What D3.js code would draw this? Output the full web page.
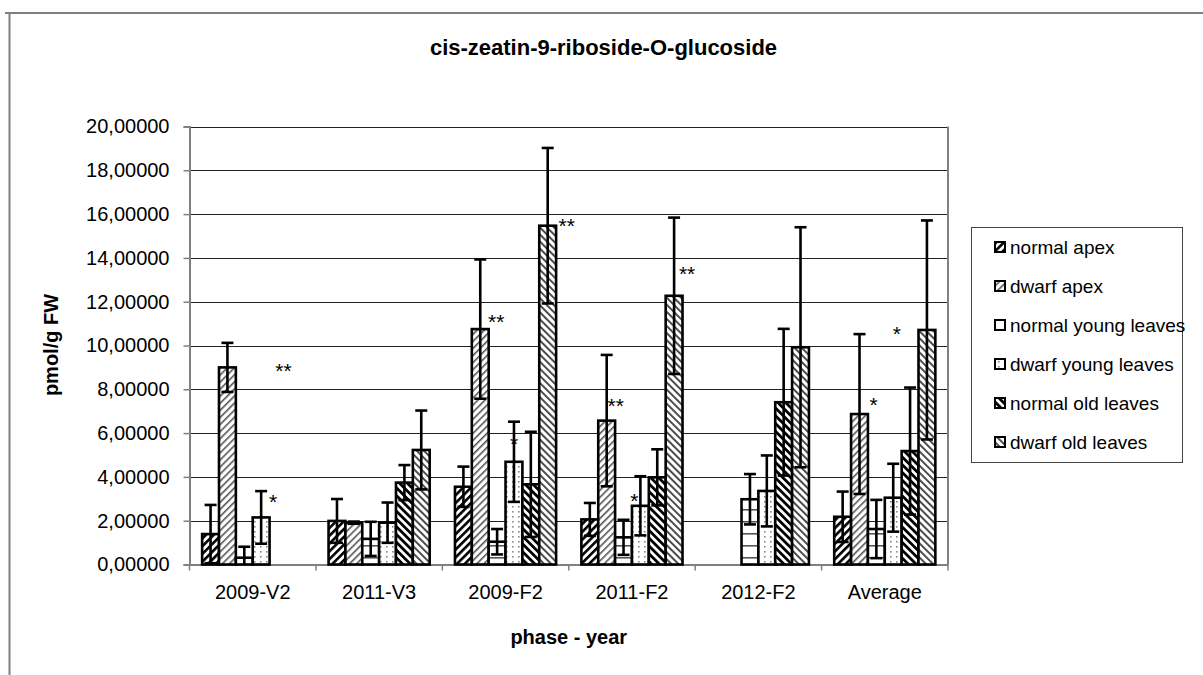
<!DOCTYPE html>
<html>
<head>
<meta charset="utf-8">
<script src="https://cdn.jsdelivr.net/npm/d3@7"></script>
<style>
  html, body { margin: 0; padding: 0; background: #fff; }
  svg { display: block; font-family: "Liberation Sans", Arial, sans-serif; }
</style>
</head>
<body>
<svg id="chart" width="1203" height="675"></svg>
<script>
// ---- data ----
const categories = ["2009-V2", "2011-V3", "2009-F2", "2011-F2", "2012-F2", "Average"];
const seriesNames = ["normal apex", "dwarf apex", "normal young leaves",
                     "dwarf young leaves", "normal old leaves", "dwarf old leaves"];

const normalApex      = [1.39, 1.99, 3.55, 2.06, null, 2.18];
const normalApexErr   = [1.33, 1.00, 0.92, 0.75, null, 1.15];
const dwarfApex       = [9.00, 1.91, 10.75, 6.57, null, 6.87];
const dwarfApexErr    = [1.12, 0.05, 3.18, 3.00, null, 3.65];
const normalYoung     = [0.31, 1.17, 1.04, 1.24, 2.98, 1.62];
const normalYoungErr  = [0.50, 0.78, 0.58, 0.80, 1.15, 1.33];
const dwarfYoung      = [2.15, 1.91, 4.69, 2.68, 3.36, 3.05];
const dwarfYoungErr   = [1.20, 0.92, 1.83, 1.35, 1.62, 1.55];
const normalOld       = [null, 3.74, 3.66, 3.98, 7.41, 5.18];
const normalOldErr    = [null, 0.80, 2.40, 1.28, 3.35, 2.90];
const dwarfOld        = [null, 5.23, 15.47, 12.27, 9.92, 10.71];
const dwarfOldErr     = [null, 1.80, 3.55, 3.57, 5.48, 5.00];

const yTicks = [0, 2, 4, 6, 8, 10, 12, 14, 16, 18, 20];

// significance marks: category, series, text
const marks = [
  { cat: "2009-V2", series: 1, text: "**" },
  { cat: "2009-V2", series: 3, text: "*" },
  { cat: "2009-F2", series: 1, text: "**" },
  { cat: "2009-F2", series: 3, text: "*" },
  { cat: "2009-F2", series: 5, text: "**" },
  { cat: "2011-F2", series: 1, text: "**" },
  { cat: "2011-F2", series: 3, text: "*" },
  { cat: "2011-F2", series: 5, text: "**" },
  { cat: "Average", series: 1, text: "*" },
  { cat: "Average", series: 5, text: "*" }
];
// label placement relative to the top-centre of the bar (px)
const markOffsets = [
  [56, 0], [12, -19], [16, -11], [0, -22], [19, -4],
  [9, -19], [-6, -9], [13, -26], [14, -13], [-30, 0]
];

const values = [normalApex, dwarfApex, normalYoung, dwarfYoung, normalOld, dwarfOld];
const errors = [normalApexErr, dwarfApexErr, normalYoungErr, dwarfYoungErr, normalOldErr, dwarfOldErr];

// ---- layout ----
const svg = d3.select("#chart");
const plot = { left: 189.5, right: 948, top: 126.5, bottom: 564.5 };

const x0 = d3.scaleBand().domain(categories).range([plot.left, plot.right]).paddingInner(0).paddingOuter(0);
// 150% gap width: group = 6 bars + 1.5 bar widths of gap
const groupPad = 0.75 / 7.5;
const x1 = d3.scaleBand().domain(d3.range(seriesNames.length))
  .range([x0.bandwidth() * groupPad, x0.bandwidth() * (1 - groupPad)]).padding(0);
const y = d3.scaleLinear().domain([0, 20]).range([plot.bottom, plot.top]);

// ---- patterns ----
const defs = svg.append("defs");
function stripes(id, angle, period, width, color) {
  const p = defs.append("pattern").attr("id", id).attr("patternUnits", "userSpaceOnUse")
    .attr("width", period).attr("height", period)
    .attr("patternTransform", `rotate(${angle})`);
  p.append("rect").attr("width", period).attr("height", period).attr("fill", "#fff");
  p.append("rect").attr("x", 0).attr("y", 0).attr("width", width).attr("height", period).attr("fill", color);
}
stripes("p0", 45, 5.5, 2.6, "#000");     // normal apex: dark upward diagonal
stripes("p1", 45, 5.0, 1.6, "#555");     // dwarf apex: light upward diagonal
stripes("p4", -45, 5.5, 2.8, "#000");    // normal old leaves: dark downward diagonal
stripes("p5", -45, 5.0, 1.9, "#444");    // dwarf old leaves: downward diagonal
{
  const p = defs.append("pattern").attr("id", "p2").attr("patternUnits", "userSpaceOnUse")
    .attr("width", 8).attr("height", 12);
  p.append("rect").attr("width", 8).attr("height", 12).attr("fill", "#fff");
  p.append("rect").attr("y", 5).attr("width", 8).attr("height", 1.6).attr("fill", "#555");
}
{
  const p = defs.append("pattern").attr("id", "p3").attr("patternUnits", "userSpaceOnUse")
    .attr("width", 6).attr("height", 5);
  p.append("rect").attr("width", 6).attr("height", 5).attr("fill", "#fff");
  p.append("rect").attr("x", 2).attr("y", 1).attr("width", 1.6).attr("height", 1.6).attr("fill", "#888");
}
const fills = ["url(#p0)", "url(#p1)", "url(#p2)", "url(#p3)", "url(#p4)", "url(#p5)"];

// ---- chart frame ----
svg.append("line").attr("x1", 5).attr("x2", 1203).attr("y1", 13).attr("y2", 13)
  .attr("stroke", "#808080").attr("stroke-width", 2);
svg.append("line").attr("x1", 9.5).attr("x2", 9.5).attr("y1", 12).attr("y2", 675)
  .attr("stroke", "#808080").attr("stroke-width", 2);

svg.append("text").attr("x", 603.5).attr("y", 55).attr("text-anchor", "middle")
  .attr("font-size", 22).attr("font-weight", "bold").text("cis-zeatin-9-riboside-O-glucoside");

// ---- gridlines ----
svg.append("g").selectAll("line").data(yTicks.slice(1)).join("line")
  .attr("x1", plot.left).attr("x2", plot.right)
  .attr("y1", d => Math.round(y(d)) + 0.5).attr("y2", d => Math.round(y(d)) + 0.5)
  .attr("stroke", "#222").attr("stroke-width", 1);

// plot area right edge
svg.append("line").attr("x1", plot.right).attr("x2", plot.right)
  .attr("y1", plot.top).attr("y2", plot.bottom)
  .attr("stroke", "#808080").attr("stroke-width", 2);

// ---- y axis ----
const yAxis = d3.axisLeft(y).tickValues(yTicks).tickSize(6).tickPadding(14)
  .tickFormat(d => d3.format(".5f")(d).replace(".", ","));
const gy = svg.append("g").attr("transform", `translate(${plot.left},0)`).call(yAxis);
gy.select(".domain").attr("stroke", "#808080").attr("stroke-width", 2);
gy.selectAll(".tick line").attr("stroke", "#808080").attr("stroke-width", 1.5);
gy.selectAll(".tick text").attr("font-size", 20).attr("fill", "#000")
  .attr("font-family", "Liberation Sans, Arial, sans-serif");

// ---- x axis ----
const xAxis = d3.axisBottom(x0).tickSize(0).tickPadding(20);
const gx = svg.append("g").attr("transform", `translate(0,${plot.bottom})`).call(xAxis);
gx.select(".domain").attr("stroke", "#808080").attr("stroke-width", 2);
gx.selectAll(".tick text").attr("font-size", 20).attr("fill", "#000")
  .attr("font-family", "Liberation Sans, Arial, sans-serif");
// category boundary ticks
const bounds = categories.map(c => x0(c)).concat([x0(categories[categories.length - 1]) + x0.bandwidth()]);
svg.append("g").selectAll("line").data(bounds).join("line")
  .attr("x1", d => d).attr("x2", d => d).attr("y1", plot.bottom).attr("y2", plot.bottom + 6)
  .attr("stroke", "#808080").attr("stroke-width", 1.5);

// ---- axis titles ----
svg.append("text").attr("transform", `translate(58,345) rotate(-90)`)
  .attr("text-anchor", "middle").attr("font-size", 20).attr("font-weight", "bold").text("pmol/g FW");
svg.append("text").attr("x", (plot.left + plot.right) / 2).attr("y", 644)
  .attr("text-anchor", "middle").attr("font-size", 20).attr("font-weight", "bold").text("phase - year");

// ---- bars ----
const barData = [];
categories.forEach((c, ci) => {
  seriesNames.forEach((s, si) => {
    const v = values[si][ci];
    if (v !== null) barData.push({ cat: c, si, v, e: errors[si][ci] });
  });
});
const bw = x1.bandwidth();
svg.append("g").selectAll("rect").data(barData).join("rect")
  .attr("x", d => x0(d.cat) + x1(d.si))
  .attr("y", d => y(d.v))
  .attr("width", bw)
  .attr("height", d => y(0) - y(d.v))
  .attr("fill", d => fills[d.si])
  .attr("stroke", "#000").attr("stroke-width", 2.6);

// ---- error bars ----
const eg = svg.append("g").attr("stroke", "#000").attr("stroke-width", 2.6);
barData.forEach(d => {
  const cx = x0(d.cat) + x1(d.si) + bw / 2;
  const hi = d.v + d.e, lo = Math.max(0, d.v - d.e);
  eg.append("line").attr("x1", cx).attr("x2", cx).attr("y1", y(hi)).attr("y2", y(lo));
  eg.append("line").attr("x1", cx - 6).attr("x2", cx + 6).attr("y1", y(hi)).attr("y2", y(hi));
  if (d.v - d.e > 0)
    eg.append("line").attr("x1", cx - 6).attr("x2", cx + 6).attr("y1", y(lo)).attr("y2", y(lo));
});

// ---- significance marks ----
svg.append("g").selectAll("text").data(marks).join("text")
  .attr("x", (m, i) => x0(m.cat) + x1(m.series) + bw / 2 + markOffsets[i][0])
  .attr("y", (m, i) => y(values[m.series][categories.indexOf(m.cat)]) + markOffsets[i][1] + 11)
  .attr("text-anchor", "middle").attr("font-size", 21).text(m => m.text);

// ---- legend ----
const lg = svg.append("g");
lg.append("rect").attr("x", 971.5).attr("y", 227.5).attr("width", 211).attr("height", 235)
  .attr("fill", "#fff").attr("stroke", "#444").attr("stroke-width", 1);
seriesNames.forEach((s, i) => {
  const cy = 247 + i * 39;
  lg.append("rect").attr("x", 995).attr("y", cy - 5).attr("width", 10).attr("height", 10)
    .attr("fill", fills[i]).attr("stroke", "#000").attr("stroke-width", 2);
  lg.append("text").attr("x", 1010).attr("y", cy + 7).attr("font-size", 19).text(s);
});
</script>
</body>
</html>
